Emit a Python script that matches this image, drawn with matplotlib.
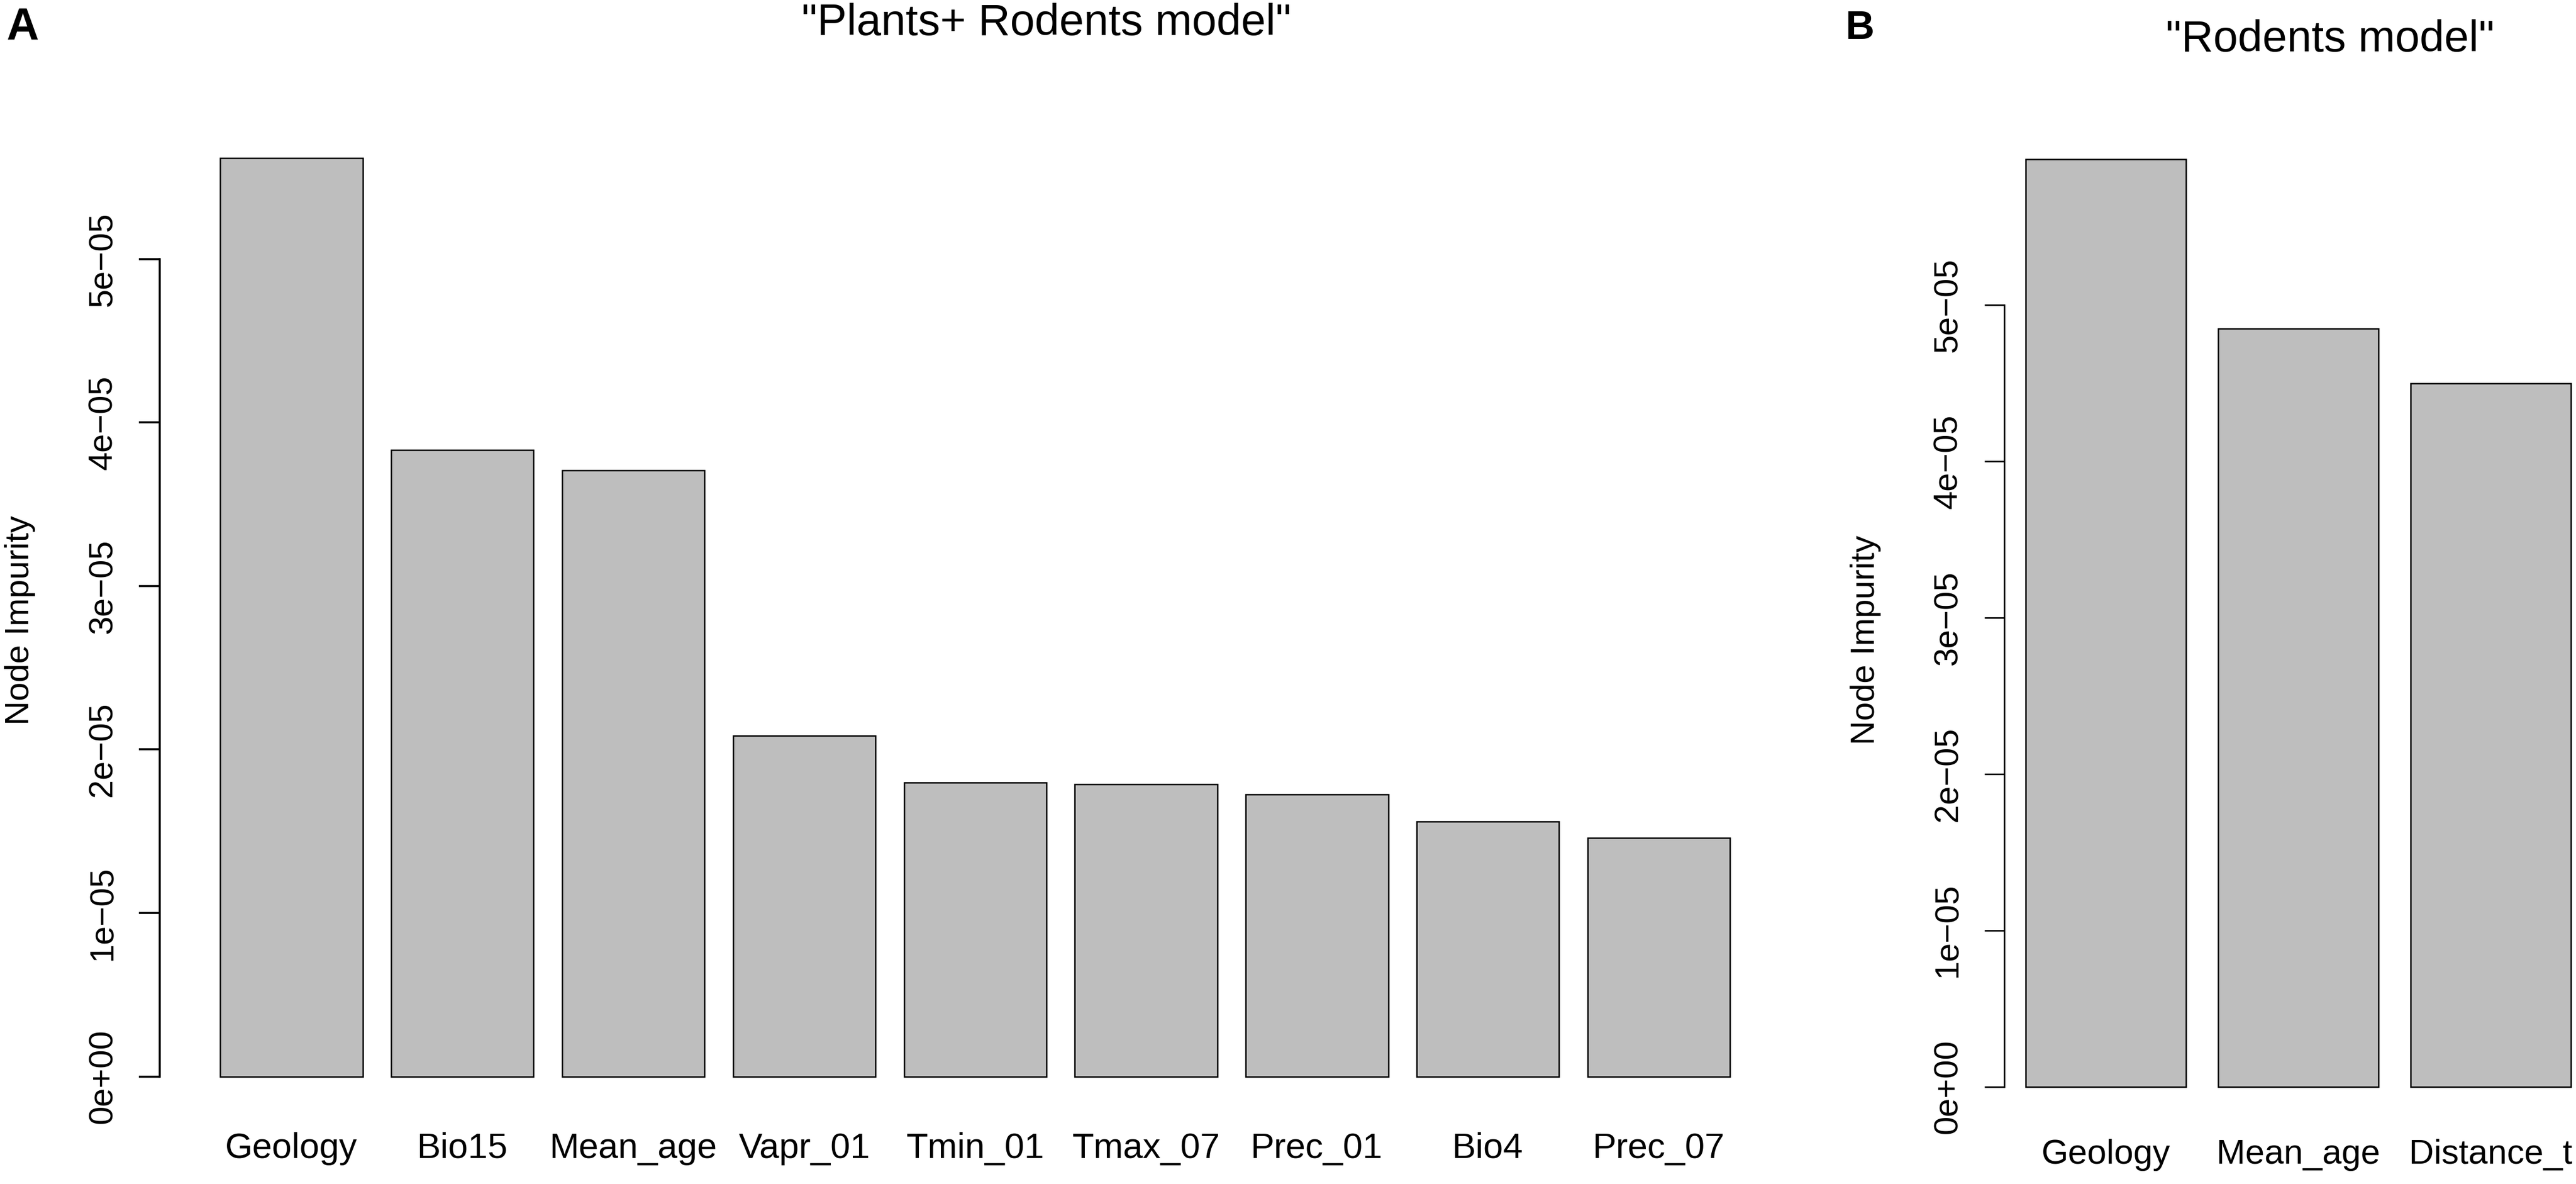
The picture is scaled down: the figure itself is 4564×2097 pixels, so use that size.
import matplotlib.pyplot as plt
import numpy as np

plt.rcParams['font.family'] = ['Liberation Sans', 'DejaVu Sans']

# Mean decrease in node impurity
plants_vars = ['Geology', 'Bio15', 'Mean_age', 'Vapr_01', 'Tmin_01',
               'Tmax_07', 'Prec_01', 'Bio4', 'Prec_07']
plants_imp = [5.618e-05, 3.834e-05, 3.709e-05, 2.084e-05, 1.797e-05,
              1.786e-05, 1.724e-05, 1.558e-05, 1.458e-05]

rodents_vars = ['Geology', 'Mean_age', 'Distance_t']
rodents_imp = [5.932e-05, 4.849e-05, 4.499e-05]

y_ticks = [0, 1e-05, 2e-05, 3e-05, 4e-05, 5e-05]
y_tick_labels = ['0e+00', '1e\u221205', '2e\u221205', '3e\u221205', '4e\u221205', '5e\u221205']

BAR_COLOR = '#bebebe'
FS = 14.3      # y ticks and y label


def r_barplot(ax, names, values, xlim, xpad, fs_x, tick_len, lw, label_coords):
    # R style barplot: width 1, space 0.2
    x = 0.2 + np.arange(len(values)) * 1.2 + 0.5
    ax.bar(x, values, width=1.0, color=BAR_COLOR, edgecolor='black', linewidth=0.6)
    vmax = max(values)
    ax.set_ylim(-0.04 * vmax, 1.04 * vmax)
    ax.set_xlim(*xlim)

    for s in ['top', 'right', 'bottom']:
        ax.spines[s].set_visible(False)
    ax.spines['left'].set_bounds(y_ticks[0], y_ticks[-1])
    ax.spines['left'].set_linewidth(lw)

    ax.set_yticks(y_ticks)
    ax.set_yticklabels(y_tick_labels, rotation=90, va='center', fontsize=FS)
    ax.tick_params(axis='y', length=tick_len, width=lw, pad=8.7)

    ax.set_xticks(x)
    ax.set_xticklabels(names, fontsize=fs_x)
    ax.tick_params(axis='x', length=0, pad=xpad)

    ax.set_ylabel('Node Impurity', fontsize=FS)
    ax.yaxis.set_label_coords(*label_coords)


fig = plt.figure(figsize=(4564 / 300, 2097 / 300), dpi=300)

ax1 = fig.add_axes([0.06205, 0.0598, 0.6330, 0.8377])
r_barplot(ax1, plants_vars, plants_imp, (-0.224, 11.224), 8.0, 15.1, 8.9, 0.85, (-0.0763, 0.497))

ax2 = fig.add_axes([0.7780, 0.0509, 0.2285, 0.8459])
r_barplot(ax2, rodents_vars, rodents_imp, (0.066, 3.736), 6.5, 14.7, 8.5, 0.65, (-0.209, 0.483))

# titles and panel letters
fig.text(1854 / 4564, 1 - 62 / 2097, '"Plants+ Rodents model"', ha='center', va='baseline', fontsize=18.8)
fig.text(4128 / 4564, 1 - 91 / 2097, '"Rodents model"', ha='center', va='baseline', fontsize=18.8)
fig.text(11 / 4564, 1 - 70 / 2097, 'A', ha='left', va='baseline', fontsize=19, fontweight='bold')
fig.text(3269 / 4564, 1 - 69 / 2097, 'B', ha='left', va='baseline', fontsize=17, fontweight='bold')

fig.savefig('out.png', dpi=300)
